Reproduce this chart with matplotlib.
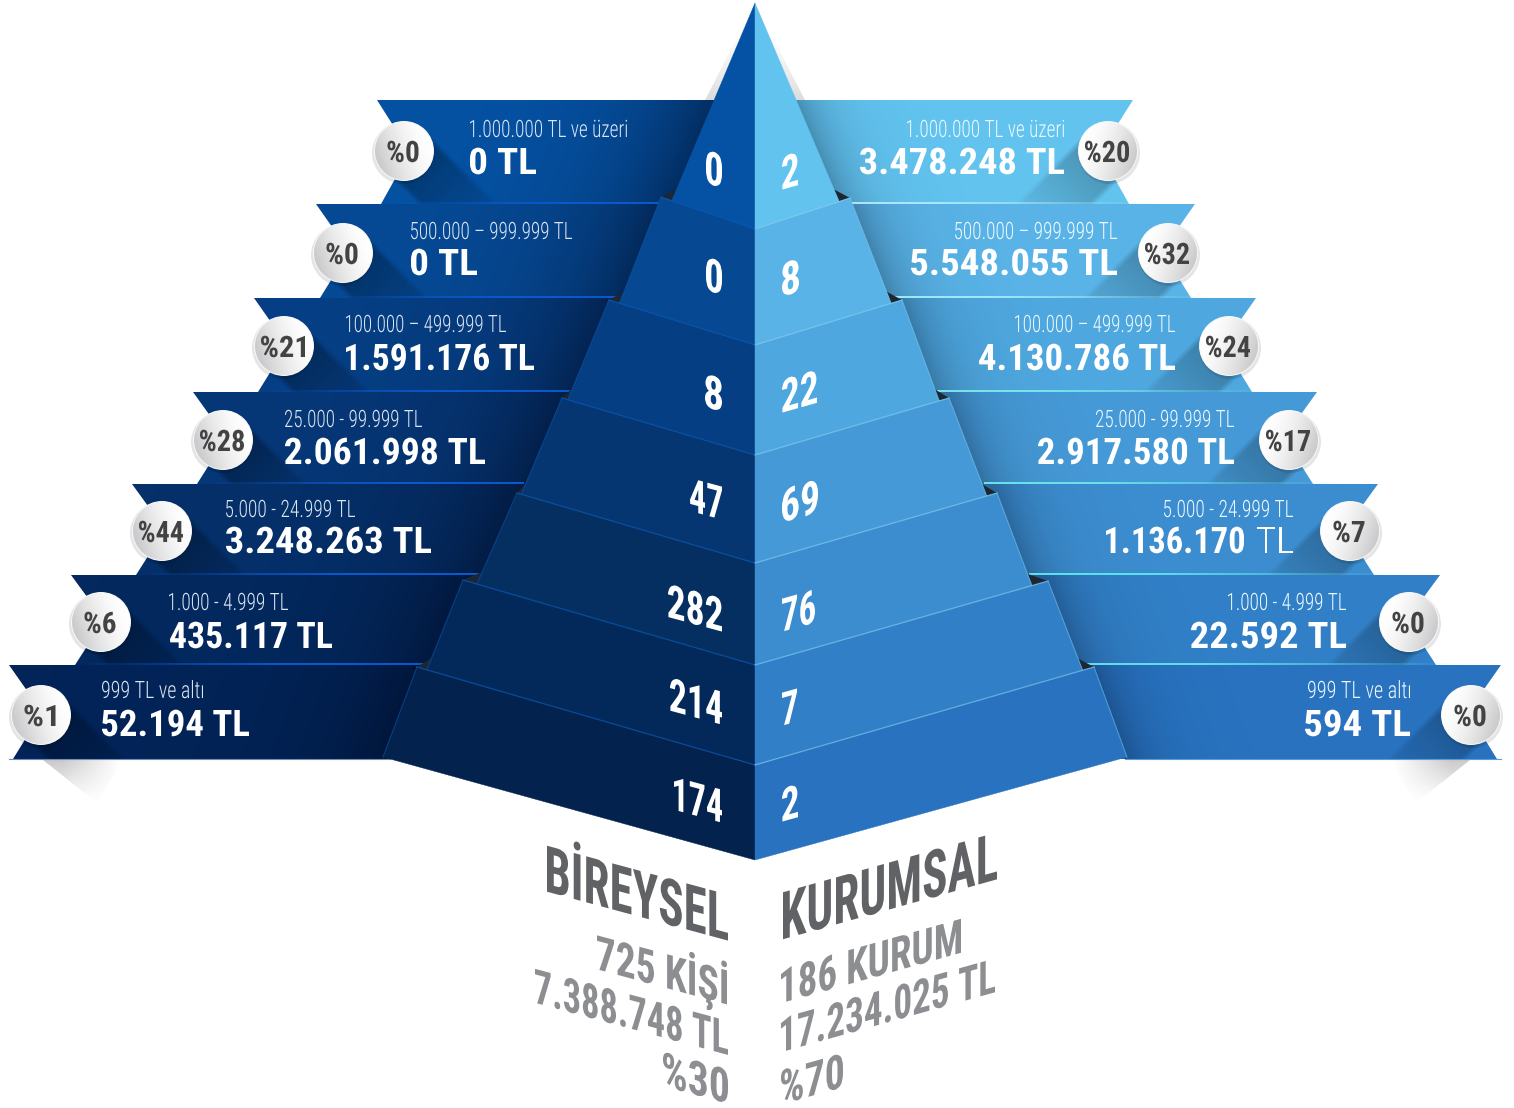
import numpy as np
import matplotlib
matplotlib.use("Agg")
import matplotlib.pyplot as plt
from matplotlib.patches import Polygon, Circle
from matplotlib.patheffects import AbstractPathEffect
from matplotlib.textpath import TextPath
from matplotlib.font_manager import FontProperties
from matplotlib.transforms import Affine2D
from matplotlib.colors import to_rgb

# ---------- data ----------
araliklar = ["1.000.000 TL ve üzeri", "500.000 – 999.999 TL", "100.000 – 499.999 TL",
             "25.000 - 99.999 TL", "5.000 - 24.999 TL", "1.000 - 4.999 TL", "999 TL ve altı"]
bireysel_tutar = ["0 TL", "0 TL", "1.591.176 TL", "2.061.998 TL", "3.248.263 TL", "435.117 TL", "52.194 TL"]
kurumsal_tutar = ["3.478.248 TL", "5.548.055 TL", "4.130.786 TL", "2.917.580 TL", "1.136.170 TL", "22.592 TL", "594 TL"]
bireysel_yuzde = [0, 0, 21, 28, 44, 6, 1]
kurumsal_yuzde = [20, 32, 24, 17, 7, 0, 0]
bireysel_adet = [0, 0, 8, 47, 282, 214, 174]
kurumsal_adet = [2, 8, 22, 69, 76, 7, 2]
bireysel_baslik = ["BİREYSEL", "725 KİŞİ", "7.388.748 TL", "%30"]
kurumsal_baslik = ["KURUMSAL", "186 KURUM", "17.234.025 TL", "%70"]

# ---------- layout (pixels) ----------
W, H = 1514, 1108
band_y = [100, 204, 298, 392, 484, 575, 665, 759]
left_tip = [377, 316, 254, 193, 132, 71, 9]
right_tip = [1133, 1195, 1256, 1317, 1378, 1440, 1501]
left_circ = [(404, 151), (343, 253), (284, 346), (223, 440), (162, 531), (101, 622), (41, 715)]
right_circ = [(1108, 151), (1168, 253), (1229, 346), (1289, 440), (1350, 531), (1409, 622), (1471, 715)]
CX = 755
center_top = [3, 229, 345, 455, 563, 665, 765]
center_bot = [229, 345, 455, 563, 665, 765, 860]
l_top = [(755, 3), (661, 197), (609, 300), (562, 398), (517, 493), (463, 580), (417, 667)]
l_bot = [(672, 200), (622, 297), (571, 392), (524, 488), (480, 577), (430, 662), (383, 757)]
r_top = [(755, 3), (850, 198), (902, 300), (949, 398), (997, 493), (1048, 581), (1094, 667)]
r_bot = [(839, 201), (889, 298), (937, 395), (984, 489), (1029, 578), (1079, 661), (1127, 757)]
left_cols = ["#0552a4", "#064a96", "#063f85", "#063777", "#05306a", "#03295f", "#022458"]
right_cols = ["#62c3ef", "#59b3e6", "#4ea7de", "#4599d6", "#3c8dcf", "#317fc6", "#2872bf"]
ltier_cols = ["#0552a4", "#064992", "#053e83", "#053672", "#042f60", "#03295a", "#03234e"]
rtier_cols = ["#62c3ef", "#59b3e6", "#4ea7de", "#4599d6", "#3c8dcf", "#317fc6", "#2872bf"]
left_line = "#0b58cc"
right_line = ["#a8e6f8", "#9ce8f5", "#78e4ea", "#68e2ea", "#5ee0ea", "#60dcea"]

lval_x = [(470, 536), (411, 477), (346, 534), (285, 485), (226, 431), (170, 332), (102, 249)]
rval_x = [(860, 1064), (911, 1117), (979, 1175), (1038, 1234), (1106, 1293), (1191, 1346), (1305, 1410)]
val_base = [175, 276, 371, 465, 554, 649, 737]
lsub_x = [(470, 627), (411, 572), (346, 506), (285, 422), (226, 355), (169, 288), (102, 203)]
rsub_x = [(907, 1064), (955, 1117), (1015, 1175), (1096, 1234), (1164, 1293), (1228, 1346), (1308, 1410)]
sub_base = [137, 239, 332, 427, 517, 610, 698]
lnum = [(706, 188), (706, 295), (705, 412), (690, 520), (668, 632), (670, 725), (674, 823)]
rnum = [(798, 190), (799, 297), (817, 413), (818, 523), (815, 632), (797, 726), (798, 822)]

FAM = "Roboto Condensed"
plt.rcParams["font.family"] = [FAM, "Roboto", "DejaVu Sans"]
fig = plt.figure(figsize=(W / 100, H / 100), dpi=100)
ax = fig.add_axes([0, 0, 1, 1])
ax.set_axis_off()
REND = fig.canvas.get_renderer()


class Warp(AbstractPathEffect):
    """Condense and shear the glyphs of a real text around its anchor."""
    def __init__(self, sx, k, px, py, drop=0):
        super().__init__()
        self.m = (Affine2D().translate(-px, -py)
                  + Affine2D(np.array([[sx, 0, 0], [k * sx, 1, 0], [0, 0, 1]], float))
                  + Affine2D().translate(px, py - drop))

    def draw_path(self, renderer, gc, tpath, affine, rgbFace=None):
        renderer.draw_path(gc, tpath, affine + self.m, rgbFace)


def put(s, x0, x1, y, cap, ha="left", k=0.0, color="white", weight="bold", z=20, lift=0):
    """Fit text between x0 and x1; y is the baseline at x0 (ha left) or x1 (ha right)."""
    fp = FontProperties(family=FAM, weight=weight)
    size = cap / 0.711 * 0.72
    bb = TextPath((0, 0), s, size=size, prop=fp).get_extents()
    sx = (x1 - x0) / (bb.width * 100 / 72)
    t = ax.text(x0, y - lift, s, ha=ha, va="baseline", fontsize=size, color=color, family=FAM,
                weight=weight, zorder=z)
    if ha == "right":
        adv = t.get_window_extent(REND).width
        a = x1 + (adv - bb.x1 * 100 / 72) * sx
    else:
        a = x0 - bb.x0 * 100 / 72 * sx
    t.set_x(a)
    t.set_path_effects([Warp(sx, k, a, H - (y - lift), lift)])


def paint(poly, func, z):
    poly = np.asarray(poly, float)
    x0, y0 = np.floor(poly.min(0)).astype(int)
    x1, y1 = np.ceil(poly.max(0)).astype(int)
    yy, xx = np.mgrid[y0:y1 + 1, x0:x1 + 1] + 0.0
    rgba = func(xx, yy)
    im = ax.imshow(rgba, extent=(x0 - .5, x1 + .5, y1 + .5, y0 - .5), aspect="auto",
                   interpolation="bilinear", zorder=z)
    im.set_clip_path(Polygon(poly, closed=True, transform=ax.transData))


def solid_alpha(color, alpha):
    c = to_rgb(color)
    rgba = np.zeros(alpha.shape + (4,))
    rgba[..., :3] = c
    rgba[..., 3] = np.clip(alpha, 0, 1)
    return rgba


def long_shadow(c, dirx, strength, length, r=29):
    def f(xx, yy):
        dx, dy = xx - c[0], yy - c[1]
        u = (dirx * dx + dy) / np.sqrt(2)
        v = (dx - dirx * dy) / np.sqrt(2)
        a = strength * np.clip(1 - u / length, 0, 1) ** 1.2 * np.clip((r - np.abs(v)) / 6, 0, 1) * (u > 0)
        return solid_alpha("#000000", a)
    return f


def edge_shadow(p, q, side, strength, scale):
    def f(xx, yy):
        t = (yy - p[1]) / (q[1] - p[1])
        xe = p[0] + t * (q[0] - p[0])
        d = np.clip((xx - xe) * side, 0, None)
        return solid_alpha("#00081e", strength * np.exp(-d / scale))
    return f


def meet(a, b, c, d):
    """Intersection of line a-b with line c-d."""
    a, b, c, d = map(lambda p: np.asarray(p, float), (a, b, c, d))
    m = np.array([b - a, c - d]).T
    t = np.linalg.solve(m, c - a)[0]
    return tuple(a + t * (b - a))


# ---------- ribbons ----------
for i in range(7):
    t, b = band_y[i], band_y[i + 1]
    mid = (t + b) / 2
    L = left_tip[i]
    R = right_tip[i]
    lp = [(L, t), (CX, t), (CX, b), (L + 4, b), (L + 33, mid)]
    rp = [(R, t), (CX, t), (CX, b), (R - 4, b), (R - 33, mid)]
    ax.add_patch(Polygon(lp, closed=True, fc=left_cols[i], ec="none", zorder=2 + i * .01))
    ax.add_patch(Polygon(rp, closed=True, fc=right_cols[i], ec="none", zorder=2 + i * .01))
    # darkening next to the pyramid
    paint(lp, edge_shadow(l_bot[i], (l_bot[i][0] + 60, l_bot[i][1] - 141) if i == 0 else l_top[i], -1, .5, 75), 3)
    paint(rp, edge_shadow(r_bot[i], (r_bot[i][0] - 60, r_bot[i][1] - 141) if i == 0 else r_top[i], 1, .28, 30), 3)
    # long shadows of the badges
    paint(lp, long_shadow(left_circ[i], 1, .36, 135), 4)
    paint(rp, long_shadow(right_circ[i], -1, .28, 135), 4)

# separators
for i in range(6):
    y = band_y[i + 1] - 1
    xe = l_bot[i][0]
    x_s = left_tip[i + 1] + 80
    ln = [(x_s, y - 1.2), (xe, y - 1.2), (xe, y + 1.2), (x_s, y + 1.2)]
    paint(ln, lambda xx, yy, a=x_s, b=xe: solid_alpha(left_line, (xx - a) / (b - a) * 1.6 + .1), 5)
    xe = r_bot[i][0]
    e2 = right_tip[i + 1] - 40
    ln = [(xe, y - 1.2), (e2, y - 1.2), (e2, y + 1.2), (xe, y + 1.2)]
    paint(ln, lambda xx, yy, a=xe, b=e2, c=right_line[i]: solid_alpha(c, (b - xx) / (b - a) * 1.5), 5)
ax.plot([9, 390], [759.3, 759.3], color="#6f8fbb", lw=.8, zorder=5)
ax.plot([1125, 1501], [759.3, 759.3], color="#5d9ad8", lw=.8, zorder=5)


# ground shadows under the lowest ribbons
def ground(x_start, dirx):
    def f(xx, yy):
        fade_y = np.clip(1 - (yy - 759) / 44, 0, 1)
        fade_x = np.clip(1 - np.clip((xx - x_start) * dirx, 0, None) / 58, 0, 1)
        return solid_alpha("#000000", .22 * fade_y * fade_x)
    return f


paint([(43, 760), (123, 760), (97, 803)], ground(62, 1), 1)
paint([(1470, 760), (1390, 760), (1416, 803)], ground(1451, -1), 1)

# soft shadow beside the apex
apex_fade = lambda xx, yy: solid_alpha("#000000", .14 * ((yy - 3) / 97) ** 2)
paint([(755, 3), (705, 100), (716, 100)], apex_fade, 1)
paint([(755, 3), (805, 100), (794, 100)], apex_fade, 1)

# ---------- pyramid ----------
for i in range(7):
    z = 6 + i * .1
    if i < 6:
        lb = meet(l_top[i], l_bot[i], l_top[i + 1], (CX, center_top[i + 1]))
        rb = meet(r_top[i], r_bot[i], r_top[i + 1], (CX, center_top[i + 1]))
    else:
        lb, rb = l_bot[i], r_bot[i]
    lp = [l_top[i], (CX, center_top[i]), (CX, center_bot[i]), lb]
    rp = [r_top[i], (CX, center_top[i]), (CX, center_bot[i]), rb]
    ax.add_patch(Polygon(lp, closed=True, fc=ltier_cols[i], ec=ltier_cols[i], lw=.3, zorder=z))
    ax.add_patch(Polygon(rp, closed=True, fc=rtier_cols[i], ec=rtier_cols[i], lw=.3, zorder=z))
    if i:
        ax.plot([l_top[i][0], CX], [l_top[i][1], center_top[i]], color="#0c5cb8", lw=.9, alpha=.7, zorder=z + .01)
        ax.plot([r_top[i][0], CX], [r_top[i][1], center_top[i]], color="#8fd6f6", lw=.9, alpha=.6, zorder=z + .01)
        ax.plot([l_top[i][0], lb[0]], [l_top[i][1], lb[1]], color="#0c52a8", lw=.8, alpha=.6, zorder=z + .01)
        ax.plot([r_top[i][0], rb[0]], [r_top[i][1], rb[1]], color="#7cc8ee", lw=.8, alpha=.5, zorder=z + .01)
    if i < 6:
        ax.add_patch(Polygon([l_top[i + 1], lb, (lb[0] + 5, lb[1] - 12)], closed=True, fc="#1d2733", ec="none", zorder=5.5))
        ax.add_patch(Polygon([r_top[i + 1], rb, (rb[0] - 5, rb[1] - 12)], closed=True, fc="#1d2733", ec="none", zorder=5.5))

K_L, K_R = -0.27, 0.28
for i in range(7):
    x, y = lnum[i]
    put(str(bireysel_adet[i]), x, 722, y, 33, ha="right", k=K_L)
    x, y = rnum[i]
    put(str(kurumsal_adet[i]), 782, x, y, 33, ha="left", k=K_R)

# ---------- ribbon texts ----------
for i in range(7):
    a, b = lval_x[i]
    put(bireysel_tutar[i], a, b, val_base[i] - 1, 26)
    a, b = rval_x[i]
    if i == 4:
        num = kurumsal_tutar[i].split()[0]
        put(num, a, 1244, val_base[i] - 1, 26, ha="right")
        put("TL", 1257, b, val_base[i] - 1, 26, ha="right", weight="light")
    else:
        put(kurumsal_tutar[i], a, b, val_base[i] - 1, 26, ha="right")
    a, b = lsub_x[i]
    put(araliklar[i], a, b, sub_base[i], 17, weight="light", color="#dbe5f2")
    a, b = rsub_x[i]
    put(araliklar[i], a, b, sub_base[i], 17, ha="right", weight="light", color="#eef9fd")


# ---------- badges ----------
def badge(c, label, side):
    ax.add_patch(Circle((c[0] + side, c[1] + 2), 31, fc="#000000", alpha=.10, ec="none", zorder=9))
    ax.add_patch(Circle(c, 30, fc="#f7f7f7", ec="none", zorder=9.5))
    r = 29
    th = np.linspace(0, 2 * np.pi, 80)
    poly = np.c_[c[0] + r * np.cos(th), c[1] + r * np.sin(th)]

    def f(xx, yy):
        t = (((xx - c[0]) * side + (yy - c[1]) * .35) / r + 1) / 2
        t = np.clip(t, 0, 1)[..., None]
        lo, hi = np.array(to_rgb("#ffffff")), np.array(to_rgb("#cbcbcd"))
        rgb = lo + (hi - lo) * t ** 1.6
        return np.concatenate([rgb, np.ones_like(t)], axis=-1)
    paint(poly, f, 10)
    s = "%" + str(label)
    w = {2: 31, 3: 44}[len(s)]
    put(s, c[0] - w / 2 - 1, c[0] + w / 2 - 1, c[1] + 11, 21, color="#434343", z=21)


for i in range(7):
    badge(left_circ[i], bireysel_yuzde[i], -1)
    badge(right_circ[i], kurumsal_yuzde[i], 1)

# ---------- captions ----------
GR1, GR2 = "#616265", "#8c8e91"
put(bireysel_baslik[0], 547, 728, 941, 46, ha="right", k=K_L, color=GR1)
put(bireysel_baslik[1], 597, 727, 1005, 34, ha="right", k=K_L, color=GR2, lift=3)
put(bireysel_baslik[2], 535, 728, 1055, 34, ha="right", k=K_L, color=GR2, lift=5)
put(bireysel_baslik[3], 663, 728, 1104, 34, ha="right", k=K_L, color=GR2, lift=8)
put(kurumsal_baslik[0], 783, 997, 940, 47, k=K_R, color=GR1)
put(kurumsal_baslik[1], 781, 961, 1004, 34, k=K_R, color=GR2)
put(kurumsal_baslik[2], 781, 995, 1053, 34, k=K_R, color=GR2, lift=3)
put(kurumsal_baslik[3], 781, 843, 1105, 34, k=K_R, color=GR2, lift=8)

ax.set_xlim(0, W)
ax.set_ylim(H, 0)
fig.savefig("out.png", dpi=100, facecolor="white")
